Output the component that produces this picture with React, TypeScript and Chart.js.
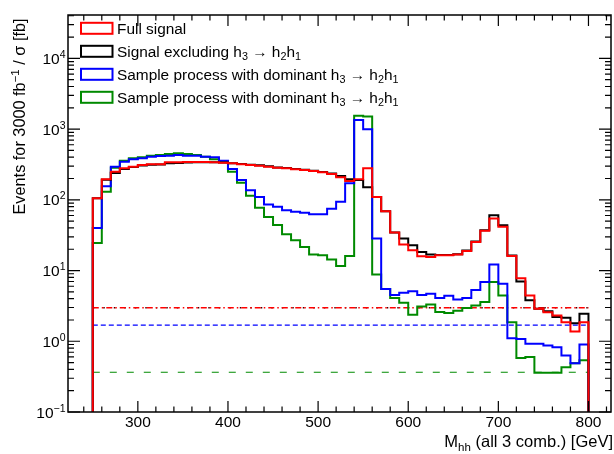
import React, { useEffect, useRef } from "react";
import { Chart, registerables } from "chart.js";

Chart.register(...registerables);

// ---------- data ----------
const BIN_EDGES = [
  250, 260, 270, 280, 290, 300, 310, 320, 330, 340, 350, 360, 370, 380, 390,
  400, 410, 420, 430, 440, 450, 460, 470, 480, 490, 500, 510, 520, 530, 540,
  550, 560, 570, 580, 590, 600, 610, 620, 630, 640, 650, 660, 670, 680, 690,
  700, 710, 720, 730, 740, 750, 760, 770, 780, 790, 800,
];

const FULL_SIGNAL = [
  105, 195, 249, 279, 294, 310, 318, 318, 339, 339,
  343, 343, 343, 339, 335, 328, 318, 310, 304, 294,
  284, 279, 270, 264, 256, 245, 232, 208, 185, 195,
  279, 110, 69, 34.5, 23.3, 19.4, 15.9, 15.6, 16.4, 16.4,
  16.8, 18.9, 25.4, 36.4, 54.5, 41.5, 16.1, 7.8, 4.45, 2.88,
  2.58, 2.31, 1.86, 1.37, 1.86,
];

const SIGNAL_EXCL_H3_H2H1 = [
  105, 192, 240, 272, 290, 305, 312, 315, 330, 332,
  338, 340, 340, 339, 336, 330, 322, 313, 308, 298,
  287, 281, 272, 266, 258, 247, 235, 217, 195, 190,
  150, 110, 69, 34.5, 28.3, 22.8, 18.3, 16.8, 16.6, 16.6,
  17.0, 19.2, 25.8, 37, 60.7, 43.8, 16.3, 7.0, 3.8, 2.88,
  2.65, 2.2, 2.15, 1.8, 2.45,
];

const SAMPLE_BLUE = [
  40, 156, 294, 346, 374, 387, 407, 417, 421, 431,
  421, 421, 407, 399, 357, 272, 190, 137, 110, 86,
  80, 71, 68, 65.5, 62.7, 62.7, 75, 94, 171, 1349,
  996, 28.3, 5.5, 4.5, 4.85, 5.1, 4.5, 4.7, 4.1, 4.4,
  3.9, 4.1, 5.3, 6.9, 12.2, 6.5, 1.1, 1.08, 0.92, 0.92,
  0.87, 0.82, 0.63, 0.49, 0.9,
];

const SAMPLE_GREEN = [
  24.5, 130, 285, 357, 387, 399, 421, 431, 445, 455,
  445, 431, 407, 374, 346, 249, 174, 114, 77, 57,
  44, 32.7, 26.8, 21.6, 16.8, 16.4, 14.3, 11.6, 16.1, 1538,
  1506, 8.8, 5.5, 4.1, 3.5, 2.37, 3.1, 3.3, 2.6, 2.5,
  2.7, 2.95, 3.2, 3.6, 6.9, 4.45, 1.86, 0.58, 0.6, 0.36,
  0.36, 0.36, 0.43, 0.49, 0.54,
];

const LEVEL_FULL = 2.98;
const LEVEL_EXCL = 2.98;
const LEVEL_BLUE = 1.69;
const LEVEL_GREEN = 0.365;

const X_MIN = 222.5;
const X_MAX = 825;
const Y_MIN = 0.1;
const Y_MAX = 41000;
const X_MAJOR_TICKS = [300, 400, 500, 600, 700, 800];
const X_MINOR_STEP = 20;
const Y_DECADES = [0.1, 1, 10, 100, 1000, 10000];
const Y_DECADE_EXPONENTS = ["\u22121", "0", "1", "2", "3", "4"];

const COLORS = {
  red: "#ff0000",
  black: "#000000",
  blue: "#0000ff",
  green: "#008a00",
};

type Part = { t: string; k?: "sub" | "sup" };

const LEGEND_ITEMS: { color: string; parts: Part[] }[] = [
  { color: COLORS.red, parts: [{ t: "Full signal" }] },
  {
    color: COLORS.black,
    parts: [
      { t: "Signal excluding h" }, { t: "3", k: "sub" }, { t: " \u2192 h" },
      { t: "2", k: "sub" }, { t: "h" }, { t: "1", k: "sub" },
    ],
  },
  {
    color: COLORS.blue,
    parts: [
      { t: "Sample process with dominant h" }, { t: "3", k: "sub" }, { t: " \u2192 h" },
      { t: "2", k: "sub" }, { t: "h" }, { t: "1", k: "sub" },
    ],
  },
  {
    color: COLORS.green,
    parts: [
      { t: "Sample process with dominant h" }, { t: "3", k: "sub" }, { t: " \u2192 h" },
      { t: "2", k: "sub" }, { t: "h" }, { t: "1", k: "sub" },
    ],
  },
];

const X_TITLE: Part[] = [{ t: "M" }, { t: "hh", k: "sub" }, { t: " (all 3 comb.) [GeV]" }];
const Y_TITLE: Part[] = [{ t: "Events for 3000 fb" }, { t: "\u22121", k: "sup" }, { t: " / \u03c3 [fb]" }];

const FONT = "'Liberation Sans', Arial, Helvetica, sans-serif";

// ---------- helpers ----------
function histPoints(values: number[]) {
  const n = values.length;
  const pts: { x: number; y: number }[] = [{ x: BIN_EDGES[0], y: Y_MIN }];
  values.forEach((v, i) => pts.push({ x: BIN_EDGES[i], y: v }));
  pts.push({ x: BIN_EDGES[n], y: values[n - 1] });
  pts.push({ x: BIN_EDGES[n], y: Y_MIN });
  return pts;
}

function levelPoints(level: number) {
  return [
    { x: BIN_EDGES[0], y: level },
    { x: BIN_EDGES[BIN_EDGES.length - 1], y: level },
  ];
}

function partFont(p: Part, size: number, small: number) {
  return `${p.k ? small : size}px ${FONT}`;
}

function richWidth(ctx: CanvasRenderingContext2D, parts: Part[], size: number, small: number) {
  let w = 0;
  for (const p of parts) {
    ctx.font = partFont(p, size, small);
    w += ctx.measureText(p.t).width;
  }
  return w;
}

function drawRich(
  ctx: CanvasRenderingContext2D, parts: Part[], x: number, y: number,
  size: number, small: number, subShift: number, supShift: number,
) {
  let cx = x;
  ctx.textAlign = "left";
  ctx.textBaseline = "alphabetic";
  for (const p of parts) {
    ctx.font = partFont(p, size, small);
    const dy = p.k === "sub" ? subShift : p.k === "sup" ? -supShift : 0;
    ctx.fillText(p.t, cx, y + dy);
    cx += ctx.measureText(p.t).width;
  }
}

const rootStylePlugin = {
  id: "rootStyle",
  afterDraw(chart: any) {
    const { ctx, chartArea: a, scales } = chart;
    const xs = scales.x;
    const ys = scales.y;
    ctx.save();
    ctx.fillStyle = "#000";
    ctx.strokeStyle = "#000";

    // frame
    ctx.lineWidth = 1.5;
    ctx.strokeRect(a.left, a.top, a.right - a.left, a.bottom - a.top);

    // x ticks (bottom and top)
    ctx.lineWidth = 1.2;
    ctx.beginPath();
    for (let v = Math.ceil(X_MIN / X_MINOR_STEP) * X_MINOR_STEP; v <= X_MAX; v += X_MINOR_STEP) {
      const len = X_MAJOR_TICKS.includes(v) ? 11 : 5.5;
      const px = xs.getPixelForValue(v);
      ctx.moveTo(px, a.bottom);
      ctx.lineTo(px, a.bottom - len);
      ctx.moveTo(px, a.top);
      ctx.lineTo(px, a.top + len);
    }
    // y ticks (left and right)
    for (const d of Y_DECADES) {
      for (let m = 1; m <= 9; m++) {
        const v = d * m;
        if (v < Y_MIN * 0.999 || v > Y_MAX) continue;
        const len = m === 1 ? 12 : 6;
        const py = ys.getPixelForValue(v);
        ctx.moveTo(a.left, py);
        ctx.lineTo(a.left + len, py);
        ctx.moveTo(a.right, py);
        ctx.lineTo(a.right - len, py);
      }
    }
    ctx.stroke();

    // x tick labels
    ctx.font = `15.5px ${FONT}`;
    ctx.textAlign = "center";
    ctx.textBaseline = "alphabetic";
    for (const v of X_MAJOR_TICKS) {
      ctx.fillText(String(v), xs.getPixelForValue(v), a.bottom + 14.5);
    }

    // y tick labels 10^n
    Y_DECADES.forEach((d, i) => {
      const py = ys.getPixelForValue(d);
      const parts: Part[] = [{ t: "10" }, { t: Y_DECADE_EXPONENTS[i], k: "sup" }];
      const w = richWidth(ctx, parts, 15.5, 10.5);
      drawRich(ctx, parts, a.left - 2.5 - w, py + 5.5, 15.5, 10.5, 0, 6);
    });

    // x title (right aligned)
    {
      const w = richWidth(ctx, X_TITLE, 16.5, 11.5);
      drawRich(ctx, X_TITLE, 613 - w, a.bottom + 35, 16.5, 11.5, 4, 0);
    }

    // y title (rotated)
    ctx.save();
    ctx.translate(25, 214.5);
    ctx.rotate(-Math.PI / 2);
    drawRich(ctx, Y_TITLE, 0, 0, 16.3, 11.5, 0, 6);
    ctx.restore();

    // legend
    const boxX = 81;
    const boxW = 31.5;
    const boxH = 11;
    const rowY = [28.3, 51.3, 74.3, 97.3];
    LEGEND_ITEMS.forEach((item, i) => {
      const cy = rowY[i];
      ctx.strokeStyle = item.color;
      ctx.lineWidth = 2;
      ctx.strokeRect(boxX, cy - boxH / 2, boxW, boxH);
      ctx.fillStyle = "#000";
      drawRich(ctx, item.parts, 117, cy + 5.6, 15.4, 10.8, 3.5, 0);
    });

    ctx.restore();
  },
};

export default function App() {
  const canvasRef = useRef<HTMLCanvasElement | null>(null);

  useEffect(() => {
    const canvas = canvasRef.current;
    if (!canvas) return;

    const hist = (label: string, values: number[], color: string) => ({
      label,
      data: histPoints(values),
      borderColor: color,
      backgroundColor: color,
      borderWidth: 2,
      stepped: "before" as const,
      pointRadius: 0,
      fill: false,
      borderJoinStyle: "miter" as const,
      borderCapStyle: "butt" as const,
    });

    const level = (label: string, value: number, color: string, dash: number[], width: number) => ({
      label,
      data: levelPoints(value),
      borderColor: color,
      backgroundColor: color,
      borderWidth: width,
      borderDash: dash,
      pointRadius: 0,
      fill: false,
    });

    const chart = new Chart(canvas, {
      type: "line",
      data: {
        datasets: [
          hist("Full signal", FULL_SIGNAL, COLORS.red),
          hist("Signal excluding h3 -> h2h1", SIGNAL_EXCL_H3_H2H1, COLORS.black),
          hist("Sample process blue", SAMPLE_BLUE, COLORS.blue),
          hist("Sample process green", SAMPLE_GREEN, COLORS.green),
          level("level full", LEVEL_FULL, COLORS.red, [6, 3, 1.5, 3], 1.3),
          level("level excl", LEVEL_EXCL, "#400000", [1.5, 9], 1.3),
          level("level blue", LEVEL_BLUE, COLORS.blue, [5, 3], 1.3),
          level("level green", LEVEL_GREEN, COLORS.green, [7, 10], 1.2),
        ] as any,
      },
      options: {
        animation: false,
        responsive: false,
        maintainAspectRatio: false,
        layout: { padding: { left: 68, right: 3, top: 15, bottom: 42 } },
        scales: {
          x: { type: "linear", min: X_MIN, max: X_MAX, display: false },
          y: { type: "logarithmic", min: Y_MIN, max: Y_MAX, display: false },
        },
        plugins: {
          legend: { display: false },
          tooltip: { enabled: false },
        },
        elements: { line: { tension: 0 } },
      },
      plugins: [rootStylePlugin],
    });

    return () => chart.destroy();
  }, []);

  return (
    <div style={{ position: "absolute", left: 0, top: 0, width: 614, height: 454, background: "#fff" }}>
      <canvas ref={canvasRef} width={614} height={454} style={{ width: 614, height: 454, display: "block" }} />
    </div>
  );
}
